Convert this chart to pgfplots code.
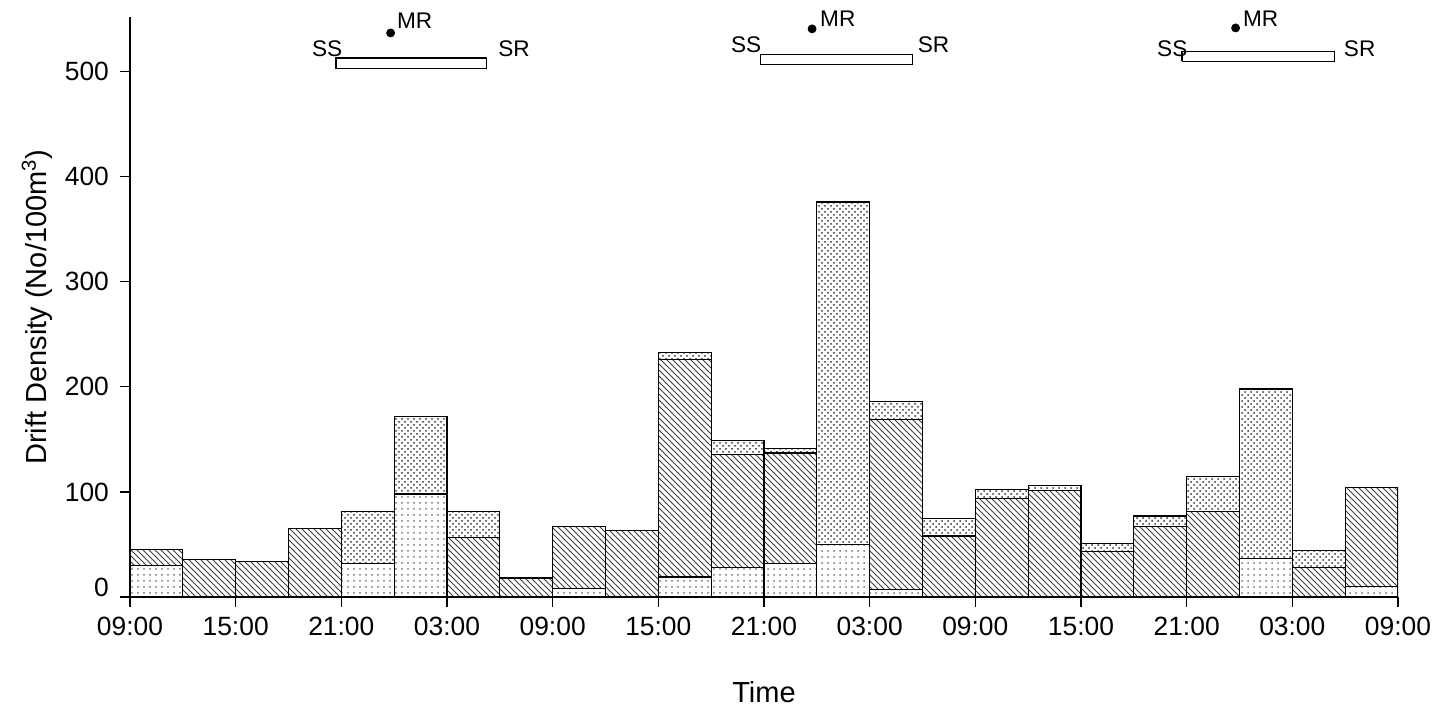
\documentclass[border=0pt]{standalone}
\usepackage{fontspec}
\setmainfont{Liberation Sans}
\usepackage{pgfplots}
\pgfplotsset{compat=1.18}
\usepackage{pgfplotstable}
\usetikzlibrary{patterns}

% x = centre of each 3-hour sampling interval (hours after 09:00 on day 1)
% A = lower (light) component, H = hatched component, D = dotted component
\pgfplotstableread{
x    A   H    D
1.5  30  15   0
4.5  0   36   0
7.5  0   34   0
10.5 0   65   0
13.5 32  0    49
16.5 98  0    74
19.5 0   57   24
22.5 0   18   0
25.5 8   59   0
28.5 0   63   0
31.5 19  207  7
34.5 28  108  13
37.5 32  105  4
40.5 50  0    326
43.5 7   162  17
46.5 0   58   17
49.5 0   94   8
52.5 0   101  5
55.5 0   43   8
58.5 0   67   10
61.5 0   81   34
64.5 37  0    161
67.5 0   28   16
70.5 10  94   0
}\drift

\pgfplotstableread{
x      y
11.69  502.9
20.25  502.9
20.25  513.0
11.69  513.0
11.69  502.9
}\nightA
\pgfplotstableread{
x      y
35.80  506.7
44.43  506.7
44.43  516.2
35.80  516.2
35.80  506.7
}\nightB
\pgfplotstableread{
x      y
59.72  509.8
68.40  509.8
68.40  519.3
59.72  519.3
59.72  509.8
}\nightC

\begin{document}
\begin{tikzpicture}
\path[use as bounding box] (-65pt,-55pt) rectangle (651pt,298.5pt);
\begin{axis}[
  scale only axis, width=634pt, height=290pt,
  xmin=0, xmax=72, ymin=0, ymax=552,
  axis x line*=bottom, axis y line*=left,
  y axis line style={line width=1.1pt},
  x axis line style={line width=0.6pt},
  tick align=outside, major tick length=5pt,
  tick style={black, line width=0.6pt},
  xtick={0,6,...,72},
  xticklabels={09:00,15:00,21:00,03:00,09:00,15:00,21:00,03:00,09:00,15:00,21:00,03:00,09:00},
  ytick={0,100,...,500},
  yticklabels={\raisebox{10pt}{0},100,200,300,400,500},
  /pgf/number format/assume math mode=true,
  tick label style={font=\fontsize{13.2}{15}\selectfont},
  xticklabel style={yshift=-1.5pt},
  yticklabel style={xshift=-2pt},
  xlabel={Time},
  ylabel={Drift Density (No/100m\textsuperscript{3})},
  every axis x label/.style={at={(axis description cs:0.5,-0.1638)}, anchor=center, font=\fontsize{14.5}{17}\selectfont},
  every axis y label/.style={at={(axis description cs:-0.0733,0.5)}, anchor=center, rotate=90, font=\fontsize{14.5}{17}\selectfont},
  ybar stacked, bar width=3,
]
\addplot[draw=black, line width=0.6pt, pattern=dots, pattern color=black!55] table[x=x, y=A] {\drift};
\addplot[draw=black, line width=0.6pt, pattern=north west lines, pattern color=black!75] table[x=x, y=H] {\drift};
\addplot[draw=black, line width=0.6pt, pattern=crosshatch dots, pattern color=black!80] table[x=x, y=D] {\drift};
\end{axis}
\begin{axis}[
  scale only axis, width=634pt, height=290pt,
  xmin=0, xmax=72, ymin=0, ymax=552,
  axis lines=none, clip=false,
]
% night bars (sunset to sunrise)
\addplot[black, line width=0.8pt, fill=white, mark=none] table[x=x, y=y] {\nightA};
\addplot[black, line width=0.8pt, fill=white, mark=none] table[x=x, y=y] {\nightB};
\addplot[black, line width=0.8pt, fill=white, mark=none] table[x=x, y=y] {\nightC};
% moonrise
\addplot[only marks, mark=*, mark size=2pt, black]
  coordinates {(14.80,536.8) (38.73,540.7) (62.78,541.6)};
\begin{scope}[every node/.style={font=\fontsize{11.3}{13}\selectfont, inner sep=0pt}]
\node[anchor=base east] at (axis cs:12.07,514.6) {SS};
\node[anchor=base west] at (axis cs:20.89,514.6) {SR};
\node[anchor=base west] at (axis cs:15.14,541.0) {MR};
\node[anchor=base east] at (axis cs:35.87,518.4) {SS};
\node[anchor=base west] at (axis cs:44.71,518.4) {SR};
\node[anchor=base west] at (axis cs:39.17,542.6) {MR};
\node[anchor=base east] at (axis cs:60.06,514.6) {SS};
\node[anchor=base west] at (axis cs:68.91,514.6) {SR};
\node[anchor=base west] at (axis cs:63.18,543.1) {MR};
\end{scope}
\end{axis}
\end{tikzpicture}
\end{document}
